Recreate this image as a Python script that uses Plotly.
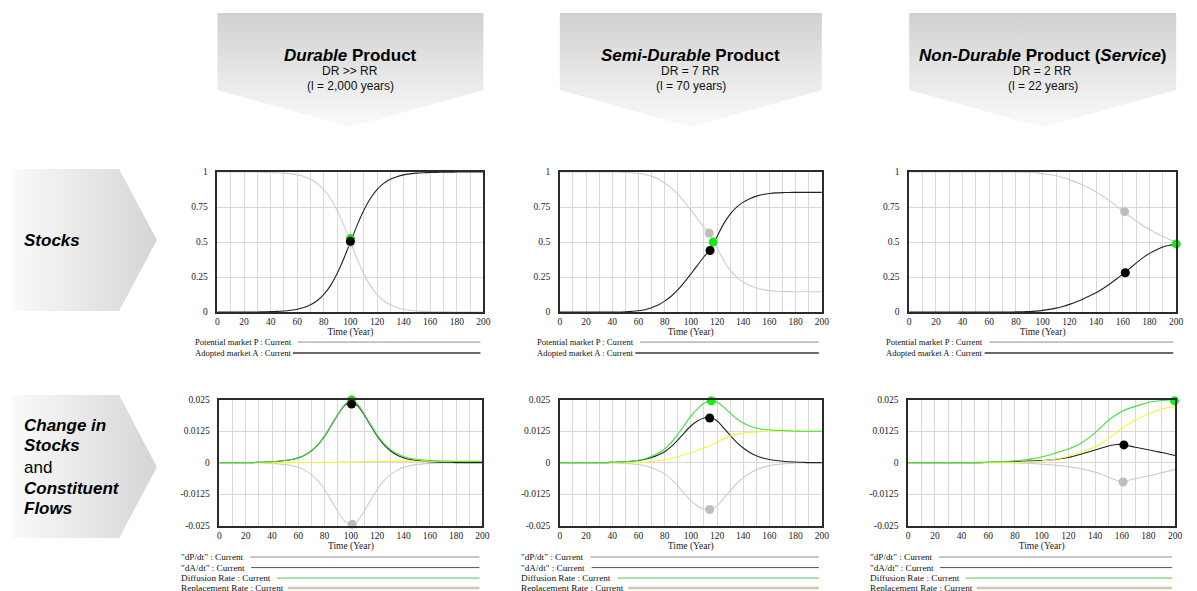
import plotly.graph_objects as go

W, H = 1197, 591
# Mapping between the figure's own pixels and the photographed page (measured):
# screen_x = fig_x + 8 ; screen_y = OY + SY * (fig_y + 8)
PAGE_MARGIN = 8
SY, OY = 0.983, 5.1

# ---------------- data ----------------
T = [0, 5, 10, 15, 20, 25, 30, 35, 40, 45, 50, 55, 60, 65, 70, 75, 80, 85, 90, 95, 100,
     105, 110, 115, 120, 125, 130, 135, 140, 145, 150, 155, 160, 165, 170, 175, 180, 185, 190, 195, 200]

X_TICKS = [0, 10, 20, 30, 40, 50, 60, 70, 80, 90, 100, 110, 120, 130, 140, 150, 160, 170, 180, 190, 200]
X_TICK_TEXT = ["0", "", "20", "", "40", "", "60", "", "80", "", "100", "", "120", "", "140", "", "160", "", "180", "", "200"]
STOCK_TICKS = [0, 0.25, 0.5, 0.75, 1]
STOCK_TICK_TEXT = ["0", "0.25", "0.5", "0.75", "1"]
FLOW_TICKS = [-0.025, -0.0125, 0, 0.0125, 0.025]
FLOW_TICK_TEXT = ["-0.025", "-0.0125", "0", "0.0125", "0.025"]

# Durable product
DUR_P = [1, 1, 1, 1, 1, 1, 1, 0.998, 0.997, 0.995, 0.992, 0.987, 0.98, 0.968, 0.948, 0.919, 0.874, 0.811, 0.725, 0.619, 0.5,
         0.381, 0.275, 0.189, 0.126, 0.081, 0.052, 0.033, 0.02, 0.013, 0.008, 0.005, 0.003, 0.002, 0.001, 0.001, 0, 0, 0, 0, 0]
DUR_A = [0, 0, 0, 0, 0, 0, 0, 0.002, 0.003, 0.005, 0.008, 0.013, 0.02, 0.032, 0.052, 0.081, 0.126, 0.189, 0.275, 0.381, 0.5,
         0.619, 0.725, 0.811, 0.874, 0.919, 0.948, 0.967, 0.98, 0.987, 0.992, 0.995, 0.997, 0.998, 0.999, 0.999, 1, 1, 1, 1, 1]
DUR_DP = [0, 0, 0, 0, 0, 0, -0.0001, -0.0002, -0.0003, -0.0005, -0.0008, -0.0012, -0.0019, -0.0031, -0.0048, -0.0073, -0.0107,
          -0.0150, -0.0194, -0.0231, -0.0245, -0.0231, -0.0194, -0.0150, -0.0107, -0.0073, -0.0048, -0.0031, -0.0019, -0.0012,
          -0.0008, -0.0005, -0.0003, -0.0002, -0.0001, -0.0001, 0, 0, 0, 0, 0]
DUR_DA = [0, 0, 0, 0, 0, 0, 0.0001, 0.0002, 0.0003, 0.0005, 0.0008, 0.0012, 0.0019, 0.0030, 0.0047, 0.0071, 0.0105, 0.0147,
          0.0190, 0.0226, 0.0240, 0.0226, 0.0190, 0.0147, 0.0105, 0.0071, 0.0047, 0.0030, 0.0019, 0.0012, 0.0008, 0.0005,
          0.0003, 0.0002, 0.0001, 0.0001, 0, 0, 0, 0, 0]
DUR_DIFF = [0, 0, 0, 0, 0, 0, 0.0001, 0.0002, 0.0003, 0.0005, 0.0008, 0.0012, 0.0019, 0.0030, 0.0047, 0.0071, 0.0106, 0.0148,
            0.0191, 0.0228, 0.0250, 0.0233, 0.0194, 0.0151, 0.0109, 0.0076, 0.0052, 0.0035, 0.0024, 0.0017, 0.0013, 0.0010,
            0.0008, 0.0007, 0.0006, 0.0006, 0.0005, 0.0005, 0.0005, 0.0005, 0.0005]
DUR_REP = [0, 0, 0, 0, 0, 0, 0, 0, 0, 0, 0, 0, 0.00001, 0.00002, 0.00003, 0.00004, 0.00006, 0.00009, 0.00014, 0.00019, 0.00025,
           0.00031, 0.00036, 0.00041, 0.00044, 0.00046, 0.00047, 0.00048, 0.00049, 0.00049, 0.0005, 0.0005, 0.0005, 0.0005,
           0.0005, 0.0005, 0.0005, 0.0005, 0.0005, 0.0005, 0.0005]

# Semi-durable product
SEMI_P = [1, 1, 1, 1, 1, 1, 1, 1, 1, 1, 0.998, 0.995, 0.991, 0.983, 0.969, 0.95, 0.922, 0.887, 0.842, 0.788, 0.728,
          0.667, 0.605, 0.55, 0.46, 0.37, 0.30, 0.25, 0.215, 0.19, 0.172, 0.16, 0.153, 0.149, 0.147, 0.146,
          0.145, 0.145, 0.145, 0.145, 0.145]
SEMI_A = [0, 0, 0, 0, 0, 0, 0, 0, 0, 0, 0.002, 0.005, 0.009, 0.017, 0.031, 0.05, 0.078, 0.113, 0.158, 0.212, 0.272,
          0.333, 0.395, 0.45, 0.54, 0.63, 0.70, 0.75, 0.785, 0.81, 0.828, 0.84, 0.847, 0.851, 0.853, 0.854,
          0.855, 0.855, 0.855, 0.855, 0.855]
SEMI_DP = [0, 0, 0, 0, 0, 0, 0, 0, -0.0001, -0.0002, -0.0003, -0.0005, -0.0008, -0.0013, -0.0021, -0.0031, -0.0045, -0.0066,
           -0.0093, -0.0123, -0.0151, -0.0172, -0.0184, -0.0186, -0.0172, -0.0143, -0.0112, -0.0083, -0.0060, -0.0042,
           -0.0028, -0.0019, -0.0012, -0.0008, -0.0005, -0.0003, -0.0002, -0.0001, 0, 0, 0]
SEMI_DA = [0, 0, 0, 0, 0, 0, 0, 0, 0.0001, 0.0002, 0.0003, 0.0005, 0.0008, 0.0013, 0.0020, 0.0030, 0.0043, 0.0063, 0.0089,
           0.0118, 0.0145, 0.0165, 0.0177, 0.0179, 0.0166, 0.0138, 0.0108, 0.0080, 0.0058, 0.0040, 0.0027, 0.0018, 0.0012,
           0.0008, 0.0005, 0.0003, 0.0002, 0.0001, 0, 0, 0]
SEMI_DIFF = [0, 0, 0, 0, 0, 0, 0, 0, 0.0001, 0.0002, 0.0003, 0.0006, 0.0009, 0.0015, 0.0025, 0.0037, 0.0054, 0.0079, 0.0112,
             0.0148, 0.0184, 0.0213, 0.0235, 0.0245, 0.0240, 0.0220, 0.0196, 0.0174, 0.0157, 0.0145, 0.0137, 0.0132,
             0.0130, 0.0128, 0.0127, 0.0126, 0.0125, 0.0124, 0.0124, 0.0124, 0.0124]
SEMI_REP = [0, 0, 0, 0, 0, 0, 0, 0, 0, 0, 0.00003, 0.00007, 0.00013, 0.00024, 0.00045, 0.0007, 0.0011, 0.0016, 0.0023, 0.0030,
            0.0039, 0.0048, 0.0058, 0.0068, 0.0082, 0.0095, 0.0105, 0.0112, 0.0117, 0.0120, 0.0122, 0.0123, 0.0124, 0.0124,
            0.0124, 0.0124, 0.0124, 0.0124, 0.0124, 0.0124, 0.0124]

# Non-durable product (service)
ND_P = [1, 1, 1, 1, 1, 1, 1, 1, 1, 1, 1, 1, 1, 1, 1, 1, 1, 0.999, 0.997, 0.994, 0.989, 0.982, 0.973, 0.961, 0.946, 0.928,
        0.907, 0.884, 0.858, 0.828, 0.796, 0.76, 0.724, 0.686, 0.65, 0.618, 0.59, 0.563, 0.54, 0.518, 0.5]
ND_A = [0, 0, 0, 0, 0, 0, 0, 0, 0, 0, 0, 0, 0, 0, 0, 0, 0.001, 0.002, 0.004, 0.007, 0.012, 0.019, 0.028, 0.04, 0.055, 0.072,
        0.092, 0.114, 0.138, 0.167, 0.199, 0.234, 0.271, 0.31, 0.35, 0.387, 0.419, 0.444, 0.464, 0.477, 0.485]
ND_DP = [0, 0, 0, 0, 0, 0, 0, 0, 0, 0, 0, 0, 0, 0, 0, 0, -0.0001, -0.0002, -0.0003, -0.0004, -0.0006, -0.0008, -0.0010,
         -0.0013, -0.0016, -0.0020, -0.0025, -0.0031, -0.0038, -0.0047, -0.0058, -0.0068, -0.0076, -0.0070, -0.0064,
         -0.0058, -0.0053, -0.0047, -0.0040, -0.0034, -0.0027]
ND_DA = [0, 0, 0, 0, 0, 0, 0, 0, 0, 0, 0, 0, 0.0001, 0.0001, 0.0002, 0.0003, 0.0004, 0.0005, 0.0006, 0.0007, 0.0008, 0.0010,
         0.0012, 0.0016, 0.0020, 0.0027, 0.0034, 0.0042, 0.0050, 0.0058, 0.0066, 0.0071, 0.0073, 0.0067, 0.0061, 0.0056,
         0.0051, 0.0045, 0.0040, 0.0034, 0.0028]
ND_DIFF = [0, 0, 0, 0, 0, 0, 0, 0, 0, 0, 0, 0.0001, 0.0002, 0.0003, 0.0004, 0.0005, 0.0007, 0.0009, 0.0012, 0.0017, 0.0022,
           0.0029, 0.0037, 0.0045, 0.0054, 0.0065, 0.0079, 0.0097, 0.0118, 0.0143, 0.0168, 0.0187, 0.0203, 0.0214, 0.0223,
           0.0231, 0.0238, 0.0243, 0.0246, 0.0248, 0.0249]
ND_REP = [0, 0, 0, 0, 0, 0, 0, 0, 0, 0, 0, 0, 0, 0, 0.0001, 0.0001, 0.0001, 0.0002, 0.0002, 0.0004, 0.0006, 0.0009, 0.0013,
          0.0018, 0.0025, 0.0033, 0.0042, 0.0052, 0.0063, 0.0077, 0.0095, 0.0115, 0.0135, 0.0152, 0.0168, 0.0182, 0.0194,
          0.0204, 0.0212, 0.0218, 0.0223]

# highlighted points (time, value): grey, green, black
DUR_STOCK_DOTS = [(100, 0.495), (100, 0.525), (100, 0.505)]
SEMI_STOCK_DOTS = [(114, 0.564), (117, 0.5), (114.7, 0.44)]
ND_STOCK_DOTS = [(161.4, 0.717), (200, 0.487), (161.9, 0.281)]
DUR_FLOW_DOTS = [(101, -0.0245), (100.5, 0.0249), (100.5, 0.0232)]
SEMI_FLOW_DOTS = [(114.4, -0.0186), (115.6, 0.0245), (114.4, 0.0177)]
ND_FLOW_DOTS = [(161, -0.0077), (199.5, 0.0245), (161.6, 0.0070)]

PRODUCT_TITLES = ["<b><i>Durable</i> Product</b>", "<b><i>Semi-Durable</i> Product</b>",
                  "<b><i>Non-Durable</i> Product (<i>Service</i>)</b>"]
PRODUCT_RATIO = ["DR &gt;&gt; RR", "DR = 7 RR", "DR = 2 RR"]
PRODUCT_LIFE = ["(l = 2,000 years)", "(l = 70 years)", "(l = 22 years)"]

# ---------------- styling ----------------
C_GREY = "#cdcdcd"
C_BLACK = "#222222"
C_GREEN = "#3fe03f"
C_YELLOW = "#f4f43a"
DOT_GREY = "#bdbdbd"
DOT_GREEN = "#14ec14"
DOT_BLACK = "#000000"
GRID = "#d9d9d9"
SERIF = "Liberation Serif, Times New Roman, serif"
SANS = "Liberation Sans, Arial, sans-serif"


def fig_y(y):
    return (y - OY) / SY - PAGE_MARGIN


def px(x):
    return (x - PAGE_MARGIN) / W


def py(y):
    return 1 - fig_y(y) / H


TOP_X = [(217, 485), (562, 826), (914, 1183)]
BOT_X = [(219, 484), (562, 826), (913, 1182)]
TOP_Y = (172, 312)
BOT_Y = (399.5, 525.5)

fig = go.Figure()

# ---------------- banners (background decoration on a full-page axis, screen pixels) ----------------
grad_v = [[0, "#fafafa"], [1, "#d0d0d0"]]
grad_h = [[0, "#fafafa"], [1, "#d5d5d5"]]
for (l, r) in TOP_X:
    c = (l + r) / 2
    fig.add_trace(go.Scatter(
        x=[l, r, r, c, l, l], y=[12, 12, 90, 127, 90, 12], xaxis="x7", yaxis="y7",
        mode="lines", fill="toself", fillgradient=dict(type="vertical", colorscale=grad_v),
        line=dict(width=0, color="rgba(0,0,0,0)"), hoverinfo="skip", showlegend=False))
for (t, b, tip) in [(169, 311, 240), (395, 538, 467)]:
    fig.add_trace(go.Scatter(
        x=[10, 118, 156, 118, 10, 10], y=[t, t, tip, b, b, t], xaxis="x7", yaxis="y7",
        mode="lines", fill="toself", fillgradient=dict(type="horizontal", colorscale=grad_h),
        line=dict(width=0, color="rgba(0,0,0,0)"), hoverinfo="skip", showlegend=False))

# ---------------- chart panels ----------------
stock_sets = [(DUR_P, DUR_A, DUR_STOCK_DOTS), (SEMI_P, SEMI_A, SEMI_STOCK_DOTS), (ND_P, ND_A, ND_STOCK_DOTS)]
flow_sets = [(DUR_DP, DUR_DA, DUR_REP, DUR_DIFF, DUR_FLOW_DOTS),
             (SEMI_DP, SEMI_DA, SEMI_REP, SEMI_DIFF, SEMI_FLOW_DOTS),
             (ND_DP, ND_DA, ND_REP, ND_DIFF, ND_FLOW_DOTS)]


def add_line(y, color, xa, ya, width=1.1):
    fig.add_trace(go.Scatter(x=T, y=y, mode="lines", xaxis=xa, yaxis=ya,
                             line=dict(color=color, width=width, shape="spline", smoothing=0.6),
                             hoverinfo="skip", showlegend=False))


def add_dots(dots, xa, ya):
    for (pt, col) in zip(dots, [DOT_GREY, DOT_GREEN, DOT_BLACK]):
        fig.add_trace(go.Scatter(x=[pt[0]], y=[pt[1]], mode="markers", xaxis=xa, yaxis=ya,
                                 marker=dict(color=col, size=9, line=dict(width=0)),
                                 cliponaxis=False, hoverinfo="skip", showlegend=False))


for k in range(3):
    i = k + 1
    xa, ya = ("x", "y") if i == 1 else (f"x{i}", f"y{i}")
    P, A, dots = stock_sets[k]
    add_line(P, C_GREY, xa, ya)
    add_line(A, C_BLACK, xa, ya)
    add_dots(dots, xa, ya)

for k in range(3):
    i = k + 4
    xa, ya = f"x{i}", f"y{i}"
    DP, DA, REP, DIFF, dots = flow_sets[k]
    add_line(DP, C_GREY, xa, ya)
    add_line(DA, C_BLACK, xa, ya)
    add_line(REP, C_YELLOW, xa, ya)
    add_line(DIFF, C_GREEN, xa, ya)
    add_dots(dots, xa, ya)

tickfont = dict(family=SERIF, size=9.5, color="#222")
y7_top = OY + SY * (0 + PAGE_MARGIN)
y7_bot = OY + SY * (H + PAGE_MARGIN)
layout = dict(
    width=W, height=H, margin=dict(l=0, r=0, t=0, b=0),
    paper_bgcolor="white", plot_bgcolor="rgba(0,0,0,0)", showlegend=False,
    xaxis7=dict(domain=[0, 1], range=[PAGE_MARGIN, W + PAGE_MARGIN], visible=False, anchor="y7", fixedrange=True),
    yaxis7=dict(domain=[0, 1], range=[y7_bot, y7_top], visible=False, anchor="x7", fixedrange=True),
)

for i in range(1, 7):
    top = i <= 3
    lx, rx = (TOP_X if top else BOT_X)[(i - 1) % 3]
    ty, by = TOP_Y if top else BOT_Y
    xname = "xaxis" if i == 1 else f"xaxis{i}"
    yname = "yaxis" if i == 1 else f"yaxis{i}"
    layout[xname] = dict(
        domain=[px(lx), px(rx)], range=[0, 200], anchor="y" if i == 1 else f"y{i}",
        tickmode="array", tickvals=X_TICKS, ticktext=X_TICK_TEXT, ticks="",
        showgrid=True, gridcolor=GRID, gridwidth=1, zeroline=False,
        showline=True, mirror=True, linecolor="#2b2b2b", linewidth=1.5,
        tickfont=tickfont, fixedrange=True,
        title=dict(text="Time (Year)", font=dict(family=SERIF, size=9.5, color="#222"), standoff=1))
    layout[yname] = dict(
        domain=[py(by), py(ty)], anchor="x" if i == 1 else f"x{i}",
        range=[0, 1] if top else [-0.025, 0.025],
        tickmode="array", tickvals=STOCK_TICKS if top else FLOW_TICKS,
        ticktext=STOCK_TICK_TEXT if top else FLOW_TICK_TEXT, ticks="",
        showgrid=True, gridcolor=GRID, gridwidth=1, zeroline=False,
        showline=True, mirror=True, linecolor="#2b2b2b", linewidth=1.5,
        tickfont=tickfont, ticklabelstandoff=6, fixedrange=True)

fig.update_layout(**layout)

# ---------------- texts ----------------
ann = []
shapes = []
for k, (l, r) in enumerate(TOP_X):
    c = (l + r) / 2
    ann.append(dict(x=px(c), y=py(55), text=PRODUCT_TITLES[k], font=dict(family=SANS, size=17, color="#000")))
    ann.append(dict(x=px(c), y=py(71), text=PRODUCT_RATIO[k], font=dict(family=SANS, size=12, color="#111")))
    ann.append(dict(x=px(c), y=py(85.5), text=PRODUCT_LIFE[k], font=dict(family=SANS, size=12, color="#111")))

ann.append(dict(x=px(20), y=py(240), text="<b><i>Stocks</i></b>", xanchor="left",
                font=dict(family=SANS, size=17, color="#000")))
for txt, yy in [("<b><i>Change in</i></b>", 425), ("<b><i>Stocks</i></b>", 445.5), ("and", 467),
                ("<b><i>Constituent</i></b>", 488), ("<b><i>Flows</i></b>", 508.5)]:
    ann.append(dict(x=px(20), y=py(yy), text=txt, xanchor="left", font=dict(family=SANS, size=17, color="#000")))

# series labels under the stock charts
for (l, r) in TOP_X:
    for txt, yy, start, col, wd in [("Potential market P : Current", 342, 81, "#8e8e8e", 1),
                                    ("Adopted market A : Current", 353, 76, "#6a6a6a", 2)]:
        ann.append(dict(x=px(l - 25), y=py(yy), text=txt, xanchor="left",
                        font=dict(family=SERIF, size=8.6, color="#111")))
        shapes.append(dict(type="line", xref="paper", yref="paper", x0=px(l + start), x1=px(r - 3),
                           y0=py(yy), y1=py(yy), line=dict(color=col, width=wd)))

# series labels under the flow charts
for (l, r) in BOT_X:
    for txt, yy, start, col, wd in [('"dP/dt" : Current', 557, 31, "#b3b3b3", 1.5),
                                    ('"dA/dt" : Current', 567.5, 32, "#555555", 1),
                                    ("Diffusion Rate : Current", 578, 58, "#5cbf5c", 1),
                                    ("Replacement Rate : Current", 588, 69, "#cacaac", 2.5)]:
        ann.append(dict(x=px(l - 41), y=py(yy), text=txt, xanchor="left",
                        font=dict(family=SERIF, size=9.2, color="#111")))
        shapes.append(dict(type="line", xref="paper", yref="paper", x0=px(l + start), x1=px(r - 3),
                           y0=py(yy), y1=py(yy), line=dict(color=col, width=wd)))

for a in ann:
    a.update(xref="paper", yref="paper", showarrow=False, yanchor="middle")
    a.setdefault("xanchor", "center")

fig.update_layout(annotations=ann, shapes=shapes)
fig.write_html("out.html")
